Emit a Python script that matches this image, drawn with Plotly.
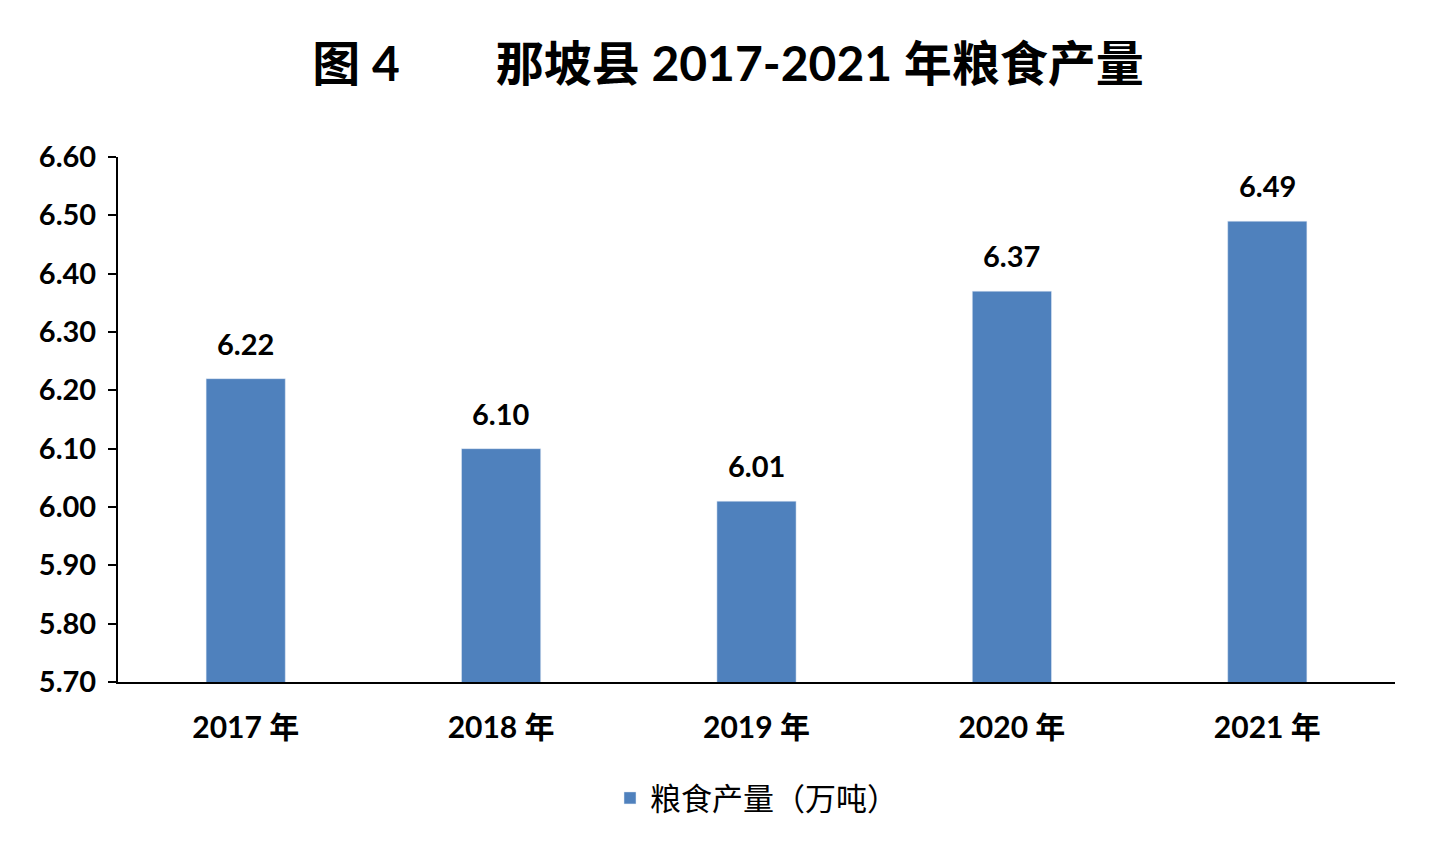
import plotly.graph_objects as go

years = ["2017 年", "2018 年", "2019 年", "2020 年", "2021 年"]
output = [6.22, 6.10, 6.01, 6.37, 6.49]
y_ticks = [5.70, 5.80, 5.90, 6.00, 6.10, 6.20, 6.30, 6.40, 6.50, 6.60]

FONT = "Lato, 'Noto Sans CJK SC', sans-serif"

fig = go.Figure(go.Bar(
    x=years, y=output, name="粮食产量（万吨）",
    marker=dict(color="#4f81bd"),
))

# value labels floated a little above each bar
for yr, v in zip(years, output):
    fig.add_annotation(x=yr, y=v, text=f"<b>{v:.2f}</b>", showarrow=False,
                       yanchor="bottom", yshift=16,
                       font=dict(size=29, color="black", family=FONT))

fig.update_layout(
    width=1440, height=864,
    title=dict(text="<b>图 4　　那坡县 2017-2021 年粮食产量</b>", x=0.5, y=0.935,
               xanchor="center", yanchor="middle",
               font=dict(size=48, color="black", family=FONT)),
    plot_bgcolor="white", paper_bgcolor="white",
    margin=dict(l=110, r=53, t=149, b=190),
    bargap=0.69,
    showlegend=True,
    legend=dict(orientation="h", x=0.5, xanchor="center", y=-0.17, yanchor="top",
                font=dict(size=31, color="black", family=FONT),
                itemwidth=30),
    font=dict(family=FONT, color="black"),
)
fig.update_yaxes(
    range=[5.70, 6.60], tickvals=y_ticks,
    ticktext=[f"<b>{v:.2f}</b>" for v in y_ticks],
    tickfont=dict(size=29), showgrid=False, zeroline=False,
    showline=True, linecolor="black", linewidth=2,
    ticks="outside", ticklen=8, tickwidth=2, tickcolor="black",
    ticklabelstandoff=6,
)
fig.update_xaxes(
    ticktext=[f"<b>{y}</b>" for y in years], tickvals=years,
    tickfont=dict(size=30), showline=True, linecolor="black", linewidth=2,
    ticks="", ticklabelstandoff=18,
)

fig.write_html("out.html")
